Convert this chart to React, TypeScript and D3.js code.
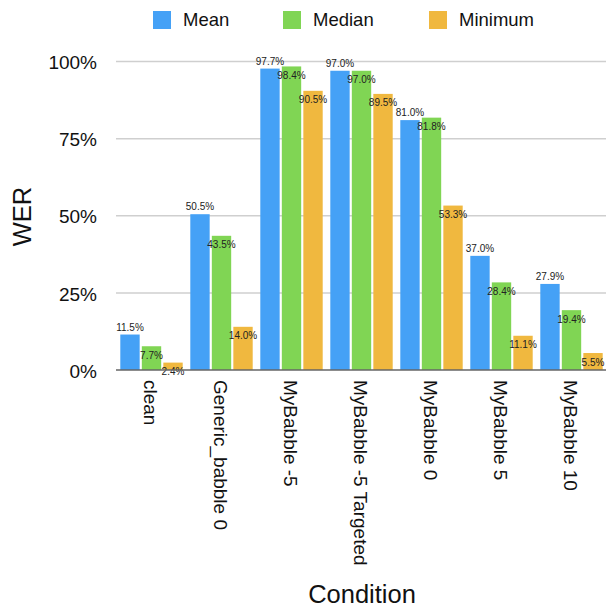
import React from "react";
import * as d3 from "d3";

const categories = [
  "clean",
  "Generic_babble 0",
  "MyBabble -5",
  "MyBabble -5 Targeted",
  "MyBabble 0",
  "MyBabble 5",
  "MyBabble 10",
];
const seriesNames = ["Mean", "Median", "Minimum"];
const meanValues = [0.115, 0.505, 0.977, 0.97, 0.81, 0.37, 0.279];
const medianValues = [0.077, 0.435, 0.984, 0.97, 0.818, 0.284, 0.194];
const minimumValues = [0.024, 0.14, 0.905, 0.895, 0.533, 0.111, 0.055];
const yTicks = [0, 0.25, 0.5, 0.75, 1];

const colors = ["#45a1f6", "#80d554", "#f0b83f"];
const FONT = "'Liberation Sans', Arial, Helvetica, sans-serif";

const W = 606;
const H = 607;

export default function App() {
  const series = [meanValues, medianValues, minimumValues];
  const x = d3.scaleBand<string>().domain(categories).range([116, 606]).padding(0);
  const inner = d3
    .scaleBand<string>()
    .domain(seriesNames)
    .range([4.3, 66.7])
    .paddingInner(0.1)
    .paddingOuter(0);
  const y = d3.scaleLinear().domain([0, 1]).range([370, 61.5]);
  const fmt = (v: number) => (v * 100).toFixed(1) + "%";

  const legendX = [153, 283, 429];

  return (
    <div style={{ position: "absolute", left: 0, top: 0 }}>
      <svg width={W} height={H} style={{ display: "block", fontFamily: FONT }}>
        <rect width={W} height={H} fill="#fff" />
        {/* legend */}
        {seriesNames.map((s, i) => (
          <g key={s}>
            <rect x={legendX[i]} y={11} width={18} height={18} fill={colors[i]} />
            <text x={legendX[i] + 30} y={20} dy="0.35em" fontSize={18.5} fill="#111">
              {s}
            </text>
          </g>
        ))}
        {/* grid + y ticks */}
        {yTicks.map((t) => (
          <g key={t}>
            {t > 0 && (
              <line x1={116} x2={606} y1={y(t)} y2={y(t)} stroke="#cfcfcf" strokeWidth={1.5} />
            )}
            <text
              x={97}
              y={y(t) + 1}
              dy="0.35em"
              textAnchor="end"
              fontSize={19}
              fill="#111"
            >
              {`${Math.round(t * 100)}%`}
            </text>
          </g>
        ))}
        {/* bars */}
        {categories.map((c, ci) => (
          <g key={c} transform={`translate(${x(c)},0)`}>
            {seriesNames.map((s, si) => {
              const v = series[si][ci];
              const bx = inner(s)!;
              const bw = inner.bandwidth();
              return (
                <rect
                  key={s}
                  x={bx}
                  y={y(v)}
                  width={bw}
                  height={y(0) - y(v)}
                  fill={colors[si]}
                />
              );
            })}
          </g>
        ))}
        {/* value labels */}
        {categories.map((c, ci) => (
          <g key={c + "-lbl"} transform={`translate(${x(c)},0)`}>
            {seriesNames.map((s, si) => {
              const v = series[si][ci];
              const cx = inner(s)! + inner.bandwidth() / 2;
              const cy = si === 0 ? y(v) - 7.5 : y(v) + 9;
              return (
                <text
                  key={s}
                  x={cx}
                  y={cy}
                  dy="0.35em"
                  textAnchor="middle"
                  fontSize={10}
                  fill="#222"
                >
                  {fmt(v)}
                </text>
              );
            })}
          </g>
        ))}
        {/* x axis line */}
        <line x1={116} x2={606} y1={y(0)} y2={y(0)} stroke="#666" strokeWidth={1.5} />
        {/* x tick labels */}
        {categories.map((c) => {
          const cx = x(c)! + x.bandwidth() / 2;
          return (
            <text
              key={c + "-tick"}
              transform={`translate(${cx},380) rotate(90)`}
              dy="0.35em"
              fontSize={19}
              fill="#111"
            >
              {c}
            </text>
          );
        })}
        {/* axis titles */}
        <text x={362} y={603} textAnchor="middle" fontSize={25.5} fill="#111">
          Condition
        </text>
        <text
          transform={`translate(31,216.5) rotate(-90)`}
          textAnchor="middle"
          fontSize={25.5}
          fill="#111"
        >
          WER
        </text>
      </svg>
    </div>
  );
}
